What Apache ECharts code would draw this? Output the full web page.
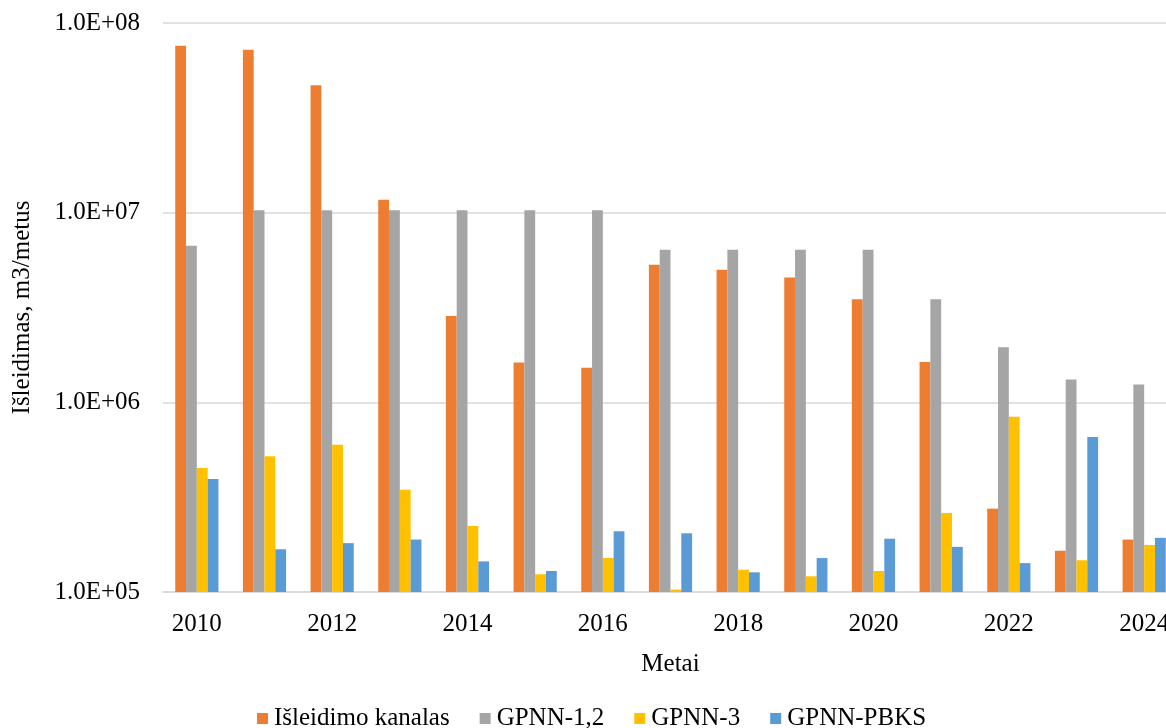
<!DOCTYPE html>
<html>
<head>
<meta charset="utf-8">
<script src="https://cdn.jsdelivr.net/npm/echarts@6/dist/echarts.min.js"></script>
<style>
  html, body { margin: 0; padding: 0; background: #fff; }
  #chart { width: 1166px; height: 728px; }
</style>
</head>
<body>
<div id="chart"></div>
<script>
// metai
const years = ["2010", "2011", "2012", "2013", "2014", "2015", "2016", "2017",
  "2018", "2019", "2020", "2021", "2022", "2023", "2024"];

// išleidimas, m3/metus
const kanalas = [7.58e7, 7.23e7, 4.69e7, 1.17e7, 2.85e6, 1.62e6, 1.52e6, 5.32e6,
  5.0e6, 4.55e6, 3.5e6, 1.63e6, 2.75e5, 1.65e5, 1.89e5];
const gpnn12 = [6.69e6, 1.03e7, 1.03e7, 1.03e7, 1.03e7, 1.03e7, 1.03e7, 6.38e6,
  6.38e6, 6.38e6, 6.38e6, 3.5e6, 1.95e6, 1.32e6, 1.24e6];
const gpnn3 = [4.5e5, 5.19e5, 5.98e5, 3.46e5, 2.23e5, 1.24e5, 1.51e5, 1.03e5,
  1.31e5, 1.21e5, 1.29e5, 2.61e5, 8.4e5, 1.47e5, 1.77e5];
const gpnnPbks = [3.94e5, 1.68e5, 1.81e5, 1.89e5, 1.45e5, 1.29e5, 2.09e5, 2.04e5,
  1.27e5, 1.51e5, 1.91e5, 1.73e5, 1.42e5, 6.56e5, 1.93e5];

const yTickLabels = ["1.0E+05", "1.0E+06", "1.0E+07", "1.0E+08"];

const seriesNames = ["Išleidimo kanalas", "GPNN-1,2", "GPNN-3", "GPNN-PBKS"];
const seriesData = [kanalas, gpnn12, gpnn3, gpnnPbks];
const colors = ["#ED7D31", "#A5A5A5", "#FFC000", "#5B9BD5"];

const font = '"Liberation Serif", "Times New Roman", serif';

const myChart = echarts.init(document.getElementById("chart"));

const option = {
  color: colors,
  textStyle: { fontFamily: font },
  grid: {
    left: 163,
    right: -12, // plot runs a little past the right edge
    top: 23,
    bottom: 136, // 728 - 592
    containLabel: false,
    outerBoundsMode: "none",
  },
  legend: {
    left: 252,
    top: 701,
    itemWidth: 11,
    itemHeight: 11,
    itemGap: 30,
    icon: "rect",
    textStyle: { fontFamily: font, fontSize: 25, color: "#000", padding: [0, 0, 0, 1] },
    data: seriesNames,
  },
  xAxis: {
    type: "category",
    data: years,
    name: "Metai",
    nameLocation: "middle",
    nameGap: 60,
    nameTextStyle: { fontFamily: font, fontSize: 25, color: "#000" },
    axisLine: { lineStyle: { color: "#d9d9d9", width: 1.5 } },
    axisTick: { show: false },
    axisLabel: {
      interval: 1,
      margin: 20,
      fontFamily: font,
      fontSize: 25,
      color: "#000",
    },
  },
  yAxis: {
    type: "log",
    logBase: 10,
    min: 1e5,
    max: 1e8,
    name: "Išleidimas, m3/metus",
    nameLocation: "middle",
    nameGap: 128,
    nameRotate: 90,
    nameTextStyle: { fontFamily: font, fontSize: 25, color: "#000" },
    axisLine: { show: false },
    axisTick: { show: false },
    axisLabel: {
      margin: 23,
      fontFamily: font,
      fontSize: 25,
      color: "#000",
      formatter: function (value, index) {
        return yTickLabels[index];
      },
    },
    splitLine: { lineStyle: { color: "#d9d9d9", width: 1.5 } },
  },
  series: seriesNames.map((name, i) => ({
    name: name,
    type: "bar",
    data: seriesData[i],
    barWidth: 10.8,
    barGap: "0%",
  })),
  animation: false,
};

myChart.setOption(option);
</script>
</body>
</html>
